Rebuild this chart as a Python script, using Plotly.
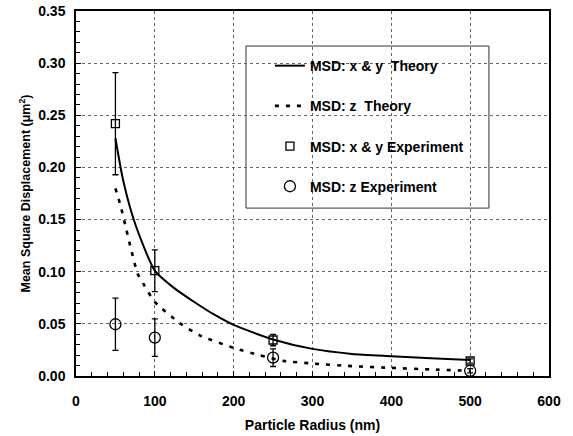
import plotly.graph_objects as go

# Theory curves
r_theory_xy = [50, 60, 75, 100, 125, 150, 175, 200, 250, 300, 350, 400, 450, 500]
msd_theory_xy = [0.228, 0.187, 0.146, 0.101, 0.084, 0.071, 0.059, 0.049, 0.035, 0.026, 0.0212, 0.019, 0.017, 0.0153]

r_theory_z = [50, 57, 64, 70, 78, 85, 100, 132, 157, 200, 233, 263, 300, 350, 400, 450, 500]
msd_theory_z = [0.180, 0.162, 0.140, 0.121, 0.0985, 0.089, 0.071, 0.0505, 0.039, 0.027, 0.020, 0.0145, 0.012, 0.0095, 0.0078, 0.0063, 0.005]

# Experiments
r_exp = [50, 100, 250, 500]
msd_exp_xy = [0.242, 0.101, 0.0345, 0.0144]
err_exp_xy = [0.049, 0.020, 0.0055, 0.002]
msd_exp_z = [0.0496, 0.0368, 0.0176, 0.005]
err_exp_z = [0.025, 0.018, 0.0085, 0.002]

font_family = "Liberation Sans, Arial, sans-serif"

fig = go.Figure()
fig.add_trace(go.Scatter(x=r_theory_xy, y=msd_theory_xy, mode="lines", name="MSD: x & y  Theory",
                         line=dict(color="black", width=2, shape="spline", smoothing=0.6),
                         legendgroup="a"))
fig.add_trace(go.Scatter(x=r_theory_z, y=msd_theory_z, mode="lines", name="MSD: z  Theory",
                         line=dict(color="black", width=2.6, dash="4px,7px", shape="spline", smoothing=0.6),
                         legendgroup="b"))
fig.add_trace(go.Scatter(x=r_exp, y=msd_exp_xy, mode="markers", name="MSD: x & y Experiment",
                         marker=dict(symbol="square-open", size=8, color="black", line=dict(width=1.3)),
                         error_y=dict(type="data", array=err_exp_xy, color="black", thickness=1.3, width=3),
                         legendgroup="c"))
fig.add_trace(go.Scatter(x=r_exp, y=msd_exp_z, mode="markers", name="MSD: z Experiment",
                         marker=dict(symbol="circle-open", size=11, color="black", line=dict(width=1.3)),
                         error_y=dict(type="data", array=err_exp_z, color="black", thickness=1.3, width=3),
                         legendgroup="d"))

fig.update_layout(
    width=573, height=436,
    margin=dict(l=76, r=24, t=11, b=60, autoexpand=False),
    paper_bgcolor="white", plot_bgcolor="white",
    font=dict(family=font_family, color="black", size=12),
    showlegend=True,
    legend=dict(x=0.41, y=0.893, xanchor="left", yanchor="top",
                bgcolor="rgba(0,0,0,0)", borderwidth=0,
                tracegroupgap=19, font=dict(size=14, family=font_family, weight="bold")),
    shapes=[dict(type="rect", xref="paper", yref="paper", x0=0.3594, x1=0.873, y0=0.460, y1=0.904,
                 line=dict(color="#333", width=1), fillcolor="white", layer="between")],
)

fig.update_xaxes(
    range=[0, 600], dtick=100, tick0=0, automargin=False,
    showline=True, linecolor="black", linewidth=1.5, mirror=True,
    showgrid=True, gridcolor="#666", griddash="dot", gridwidth=1,
    zeroline=False,
    ticks="inside", ticklen=5, tickcolor="black",
    minor=dict(dtick=20, ticks="inside", ticklen=4, tickcolor="black", showgrid=False),
    tickfont=dict(size=14, family=font_family, weight="bold"),
    ticklabelstandoff=11,
    title=dict(text="Particle Radius (nm)", font=dict(size=14, family=font_family, weight="bold"), standoff=13),
)
fig.update_yaxes(
    range=[0, 0.35], dtick=0.05, tick0=0, tickformat=".2f", automargin=False,
    showline=True, linecolor="black", linewidth=1.5, mirror=True,
    showgrid=True, gridcolor="#666", griddash="dot", gridwidth=1,
    zeroline=False,
    ticks="inside", ticklen=5, tickcolor="black",
    minor=dict(dtick=0.01, ticks="inside", ticklen=4, tickcolor="black", showgrid=False),
    tickfont=dict(size=14, family=font_family, weight="bold"),
    ticklabelstandoff=6,
    title=dict(text="Mean Square Displacement (μm<sup>2</sup>)", font=dict(size=12.5, family=font_family, weight="bold"), standoff=5),
)

fig.write_html("out.html", post_script="document.body.style.margin='0';",
               config={"displayModeBar": False})
